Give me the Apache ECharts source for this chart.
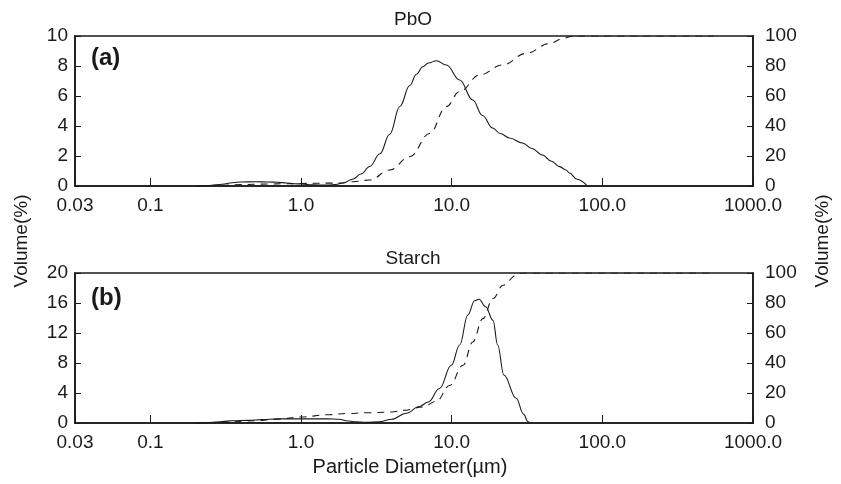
<!DOCTYPE html>
<html>
<head>
<meta charset="utf-8">
<script src="https://cdn.jsdelivr.net/npm/echarts@6/dist/echarts.min.js"></script>
<style>
html,body{margin:0;padding:0;background:#fff;}
#chart{width:841px;height:484px;}
</style>
</head>
<body>
<div id="chart"></div>
<script>
// ---- data ----
var pboDiam = [0.2,0.25,0.3,0.35,0.4,0.5,0.6,0.7,0.8,0.9,1.0,1.2,1.5,1.7,1.9,2.2,2.5,2.86,3.34,3.88,4.53,5.27,5.84,6.43,7.0,7.92,9.22,11.3,13.8,16.0,18.7,21.0,24.2,29.5,34.0,40.0,46.0,51.9,57.5,60.4,68.0,79.5];
var pboVolume = [0,0.03,0.12,0.22,0.27,0.28,0.27,0.25,0.2,0.15,0.13,0.08,0.06,0.1,0.2,0.45,0.8,1.3,2.15,3.45,5.3,6.7,7.45,7.95,8.2,8.35,8.07,7.07,5.73,4.7,3.87,3.5,3.2,2.87,2.5,2.07,1.65,1.29,1.07,0.87,0.45,0];
var pboCumDiam = [0.2,0.3,0.4,0.6,0.8,1.0,1.5,1.8,2.2,2.86,3.88,5.27,7.14,9.22,11.3,15.3,21.8,31.2,44.6,55,62,70,550];
var pboCum = [0,0.5,1.0,1.3,1.5,1.7,1.9,2.0,2.8,4,10.7,19.5,35,53,63,74,80.7,88.4,95,98.4,99.7,100,100];

var starchDiam = [0.2,0.25,0.3,0.35,0.45,0.55,0.7,1.0,1.5,1.8,2.0,2.3,2.7,3.3,4.0,5.0,6.1,7.0,8.3,9.95,11.3,12.8,14.2,15.2,16.8,18.8,20.2,22.2,26.8,30,32,33];
var starchVolume = [0,0.05,0.2,0.3,0.35,0.45,0.55,0.55,0.55,0.5,0.3,0.15,0.1,0.15,0.5,1.3,2.2,2.8,4.6,7.7,10.4,14.4,16.3,16.5,15.5,13.7,10.4,6.4,3.3,1.2,0.2,0];
var starchCumDiam = [0.2,0.3,0.5,0.7,1.0,1.5,2.0,2.7,4.0,4.76,6.45,7.92,9.7,11.9,13.8,16.1,18.8,21.9,26.8,29,550];
var starchCum = [0,0.5,1.5,2.5,4,5.5,6.3,6.8,7.3,8.4,10.7,14.5,25,38.5,54,69.6,83,91.8,98.5,100,100];

var xTickValues = [0.0316,0.1,1,10,100,1000];
var xTickLabels = ["0.03","0.1","1.0","10.0","100.0","1000.0"];
var leftTicksA = {min:0,max:10,interval:2};
var leftTicksB = {min:0,max:20,interval:4};
var rightTicks = {min:0,max:100,interval:20};

var titles = ["PbO","Starch"];
var panelTags = ["(a)","(b)"];
var yName = "Volume(%)";
var xName = "Particle Diameter(\u00b5m)";

// ---- build ----
function pairs(xs, ys){ return xs.map(function(x,i){return [x, ys[i]];}); }
function xLabel(v){
  var best=0, bd=1e9;
  for (var i=0;i<xTickValues.length;i++){
    var d=Math.abs(Math.log10(v)-Math.log10(xTickValues[i]));
    if(d<bd){bd=d;best=i;}
  }
  return bd<0.05 ? xTickLabels[best] : '';
}
var FONT = '"Liberation Sans", Arial, Helvetica, sans-serif';
var INK = '#1a1a1a';
var FS = 19;
var axisLine = {show:true, lineStyle:{color:INK, width:1.6}};

function xAxis(gi){
  return {
    type:'log', logBase:10, gridIndex:gi,
    min:Math.pow(10,-1.5), max:1000,
    axisLine:axisLine,
    axisTick:{show:true, inside:true, length:8, lineStyle:{color:INK,width:1}},
    minorTick:{show:false},
    splitLine:{show:false},
    axisLabel:{formatter:xLabel, fontSize:FS, color:INK, fontFamily:FONT, margin:10, showMinLabel:true, showMaxLabel:true, hideOverlap:false}
  };
}
function yAxis(gi, pos, t){
  return {
    type:'value', gridIndex:gi, position:pos,
    min:t.min, max:t.max, interval:t.interval,
    axisLine:axisLine,
    axisTick:{show:true, inside:true, length:6, lineStyle:{color:INK,width:1}},
    splitLine:{show:false},
    axisLabel:{fontSize:FS, color:INK, fontFamily:FONT, margin: pos==='left'?7:12}
  };
}
function solid(data, xi, yi){
  return {type:'line', xAxisIndex:xi, yAxisIndex:yi, data:data, showSymbol:false, symbol:'none',
    smooth:0.4, smoothMonotone:'x', lineStyle:{color:INK, width:1.1}, animation:false};
}
function dashed(data, xi, yi){
  return {type:'line', xAxisIndex:xi, yAxisIndex:yi, data:data, showSymbol:false, symbol:'none',
    smooth:0.4, smoothMonotone:'x', lineStyle:{color:INK, width:1.1, type:[7,6]}, animation:false};
}

var chart = echarts.init(document.getElementById('chart'), null, {renderer:'canvas'});
chart.setOption({
  animation:false,
  backgroundColor:'#fff',
  grid:[
    {left:75, right:88, top:36, height:150, show:true, borderColor:INK, borderWidth:1.6, backgroundColor:'transparent'},
    {left:75, right:88, top:273, height:150, show:true, borderColor:INK, borderWidth:1.6, backgroundColor:'transparent'}
  ],
  xAxis:[xAxis(0), xAxis(1)],
  yAxis:[yAxis(0,'left',leftTicksA), yAxis(0,'right',rightTicks), yAxis(1,'left',leftTicksB), yAxis(1,'right',rightTicks)],
  series:[
    solid(pairs(pboDiam,pboVolume),0,0),
    dashed(pairs(pboCumDiam,pboCum),0,1),
    solid(pairs(starchDiam,starchVolume),1,2),
    dashed(pairs(starchCumDiam,starchCum),1,3)
  ],
  graphic:[
    {type:'text', x:413, y:20, style:{text:titles[0], font:'19px '+FONT, fill:INK, align:'center', verticalAlign:'middle'}},
    {type:'text', x:413, y:259, style:{text:titles[1], font:'19px '+FONT, fill:INK, align:'center', verticalAlign:'middle'}},
    {type:'text', x:91, y:58, style:{text:panelTags[0], font:'bold 24px '+FONT, fill:INK, align:'left', verticalAlign:'middle'}},
    {type:'text', x:91, y:298, style:{text:panelTags[1], font:'bold 24px '+FONT, fill:INK, align:'left', verticalAlign:'middle'}},
    {type:'text', x:22, y:241, rotation:Math.PI/2, style:{text:yName, font:'19px '+FONT, fill:INK, align:'center', verticalAlign:'middle'}},
    {type:'text', x:823, y:241, rotation:Math.PI/2, style:{text:yName, font:'19px '+FONT, fill:INK, align:'center', verticalAlign:'middle'}},
    {type:'text', x:410, y:467, style:{text:xName, font:'20px '+FONT, fill:INK, align:'center', verticalAlign:'middle'}}
  ]
});
</script>
</body>
</html>
